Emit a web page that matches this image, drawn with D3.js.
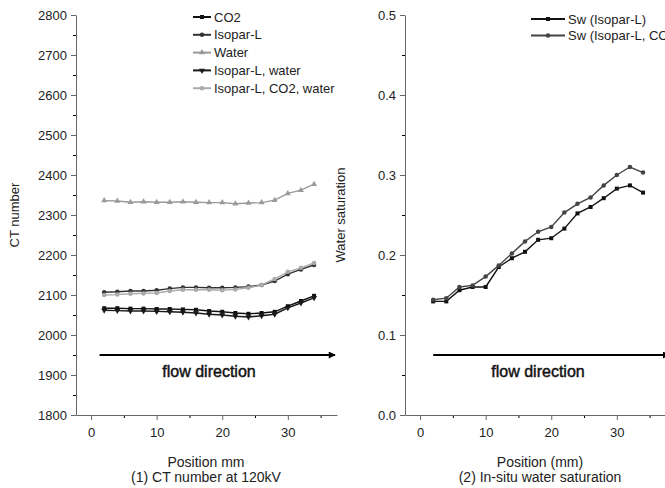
<!DOCTYPE html>
<html>
<head>
<meta charset="utf-8">
<script src="https://cdn.jsdelivr.net/npm/d3@7"></script>
<style>
  body { margin: 0; background: #fff; }
  svg { display: block; font-family: "Liberation Sans", Arial, sans-serif; }
</style>
</head>
<body>
<svg id="chart" width="665" height="488"></svg>
<script>
// positions along the core (mm)
const positions = [2, 4, 6, 8, 10, 12, 14, 16, 18, 20, 22, 24, 26, 28, 30, 32, 34];

// (1) CT number at 120kV
const ctCO2 = [2067, 2067, 2066, 2066, 2065, 2065, 2064, 2063, 2060, 2058, 2055, 2053, 2055, 2058, 2072, 2085, 2098];
const ctIsopar = [2107, 2108, 2110, 2110, 2112, 2116, 2119, 2119, 2118, 2118, 2119, 2121, 2125, 2135, 2152, 2164, 2175];
const ctWater = [2336, 2335, 2332, 2333, 2332, 2332, 2333, 2332, 2331, 2331, 2328, 2330, 2331, 2337, 2354, 2362, 2377];
const ctIsoparWater = [2062, 2061, 2060, 2060, 2059, 2058, 2057, 2055, 2052, 2050, 2047, 2045, 2048, 2052, 2068, 2080, 2093];
const ctIsoparCO2Water = [2100, 2101, 2103, 2104, 2105, 2110, 2113, 2113, 2113, 2112, 2114, 2118, 2125, 2140, 2158, 2168, 2180];

// (2) in-situ water saturation
const swIsopar = [0.142, 0.142, 0.156, 0.160, 0.160, 0.185, 0.196, 0.204, 0.219, 0.221, 0.233, 0.252, 0.260, 0.271, 0.283, 0.287, 0.278];
const swIsoparCO2 = [0.144, 0.146, 0.160, 0.162, 0.173, 0.187, 0.202, 0.217, 0.229, 0.235, 0.253, 0.264, 0.272, 0.287, 0.300, 0.310, 0.303];

const ctSeries = [
  { name: 'CO2', values: ctCO2, color: '#111', symbol: d3.symbolSquare },
  { name: 'Isopar-L', values: ctIsopar, color: '#333', symbol: d3.symbolCircle },
  { name: 'Water', values: ctWater, color: '#9a9a9a', symbol: d3.symbolTriangle },
  { name: 'Isopar-L, water', values: ctIsoparWater, color: '#1a1a1a', symbol: 'down' },
  { name: 'Isopar-L, CO2, water', values: ctIsoparCO2Water, color: '#aaa', symbol: d3.symbolCircle }
];
const swSeries = [
  { name: 'Sw (Isopar-L)', values: swIsopar, color: '#111', symbol: d3.symbolSquare },
  { name: 'Sw (Isopar-L, CO2, water)', values: swIsoparCO2, color: '#444', symbol: d3.symbolCircle }
];

const svg = d3.select('#chart');

svg.append('defs').append('marker')
  .attr('id', 'arrow')
  .attr('viewBox', '0 0 10 10')
  .attr('refX', 9).attr('refY', 5)
  .attr('markerWidth', 5).attr('markerHeight', 3.5)
  .attr('markerUnits', 'strokeWidth')
  .attr('orient', 'auto')
  .append('path').attr('d', 'M0,0L10,5L0,10z').attr('fill', '#000');

function drawPanel(cfg) {
  const x = d3.scaleLinear().domain([-2.3, 37.5]).range([cfg.left, cfg.left + 261]);
  const y = d3.scaleLinear().domain(cfg.ydomain).range([415, 15]);

  const g = svg.append('g');

  // minor ticks
  g.append('g').attr('transform', 'translate(0,415)')
    .call(d3.axisBottom(x).tickValues([5, 15, 25, 35]).tickSize(3).tickFormat(''))
    .call(a => a.select('.domain').remove());
  g.append('g').attr('transform', `translate(${cfg.left},0)`)
    .call(d3.axisLeft(y).tickValues(cfg.yminor).tickSize(3).tickFormat(''))
    .call(a => a.select('.domain').remove());

  const xa = g.append('g').attr('transform', 'translate(0,415)')
    .call(d3.axisBottom(x).tickValues([0, 10, 20, 30]).tickSize(5).tickSizeOuter(0).tickPadding(8));
  const ya = g.append('g').attr('transform', `translate(${cfg.left},0)`)
    .call(d3.axisLeft(y).tickValues(cfg.yticks).tickSize(5).tickSizeOuter(0).tickPadding(4).tickFormat(cfg.yfmt));
  [xa, ya].forEach(a => {
    a.selectAll('path, line').attr('stroke', '#666');
    a.selectAll('text').attr('fill', '#222').style('font-size', '13px');
  });

  // flow direction arrow
  g.append('line')
    .attr('x1', x(cfg.arrow[0])).attr('x2', x(cfg.arrow[1]))
    .attr('y1', y(cfg.arrowY)).attr('y2', y(cfg.arrowY))
    .attr('stroke', '#000').attr('stroke-width', 2)
    .attr('marker-end', 'url(#arrow)');
  g.append('text')
    .attr('x', cfg.left + 133).attr('y', y(cfg.arrowY) + 22)
    .attr('text-anchor', 'middle')
    .style('font-size', '16px').attr('fill', '#111')
    .attr('stroke', '#111').attr('stroke-width', 0.45)
    .text('flow direction');

  const line = d3.line().x((d, i) => x(positions[i])).y(d => y(d));
  cfg.series.forEach(s => {
    g.append('path').datum(s.values)
      .attr('d', line).attr('fill', 'none')
      .attr('stroke', s.color).attr('stroke-width', 1.4);
    g.selectAll(null).data(s.values).enter().append('path')
      .attr('transform', (d, i) => `translate(${x(positions[i])},${y(d)})` + (s.symbol === 'down' ? ' rotate(180)' : ''))
      .attr('d', d3.symbol().type(s.symbol === 'down' ? d3.symbolTriangle : s.symbol).size(16))
      .attr('fill', s.color);
  });

  // legend
  const lg = g.append('g');
  cfg.series.forEach((s, i) => {
    const ly = cfg.legend.y + i * cfg.legend.dy;
    lg.append('line')
      .attr('x1', cfg.legend.x).attr('x2', cfg.legend.x + cfg.legend.w)
      .attr('y1', ly).attr('y2', ly)
      .attr('stroke', s.color).attr('stroke-width', 2);
    lg.append('path')
      .attr('transform', `translate(${cfg.legend.x + cfg.legend.w / 2},${ly})` + (s.symbol === 'down' ? ' rotate(180)' : ''))
      .attr('d', d3.symbol().type(s.symbol === 'down' ? d3.symbolTriangle : s.symbol).size(16))
      .attr('fill', s.color);
    lg.append('text')
      .attr('x', cfg.legend.x + cfg.legend.w + 3).attr('y', ly + 4.5)
      .style('font-size', '13px').attr('fill', '#222')
      .text(s.name);
  });

  // axis titles
  g.append('text')
    .attr('transform', `translate(${cfg.ylabelX},215) rotate(-90)`)
    .attr('text-anchor', 'middle').style('font-size', '13px').attr('fill', '#222')
    .text(cfg.ylabel);
  g.append('text')
    .attr('x', cfg.titleX).attr('y', 467)
    .attr('text-anchor', 'middle').style('font-size', '14px').attr('fill', '#222')
    .text(cfg.xlabel);
  g.append('text')
    .attr('x', cfg.titleX).attr('y', 482)
    .attr('text-anchor', 'middle').style('font-size', '14px').attr('fill', '#222')
    .text(cfg.title);
}

drawPanel({
  left: 76,
  ydomain: [1800, 2800],
  yticks: [1800, 1900, 2000, 2100, 2200, 2300, 2400, 2500, 2600, 2700, 2800],
  yminor: [1850, 1950, 2050, 2150, 2250, 2350, 2450, 2550, 2650, 2750],
  yfmt: d3.format('d'),
  series: ctSeries,
  arrow: [1.3, 37.2], arrowY: 1950,
  legend: { x: 193, y: 17, dy: 17.8, w: 18 },
  ylabel: 'CT number', ylabelX: 19,
  xlabel: 'Position mm', title: '(1) CT number at 120kV', titleX: 206
});

drawPanel({
  left: 405,
  ydomain: [0, 0.5],
  yticks: [0, 0.1, 0.2, 0.3, 0.4, 0.5],
  yminor: [0.05, 0.15, 0.25, 0.35, 0.45],
  yfmt: d3.format('.1f'),
  series: swSeries,
  arrow: [2, 38], arrowY: 0.075,
  legend: { x: 531, y: 19, dy: 16.5, w: 34 },
  ylabel: 'Water saturation', ylabelX: 345,
  xlabel: 'Position (mm)', title: '(2) In-situ water saturation', titleX: 540
});
</script>
</body>
</html>
